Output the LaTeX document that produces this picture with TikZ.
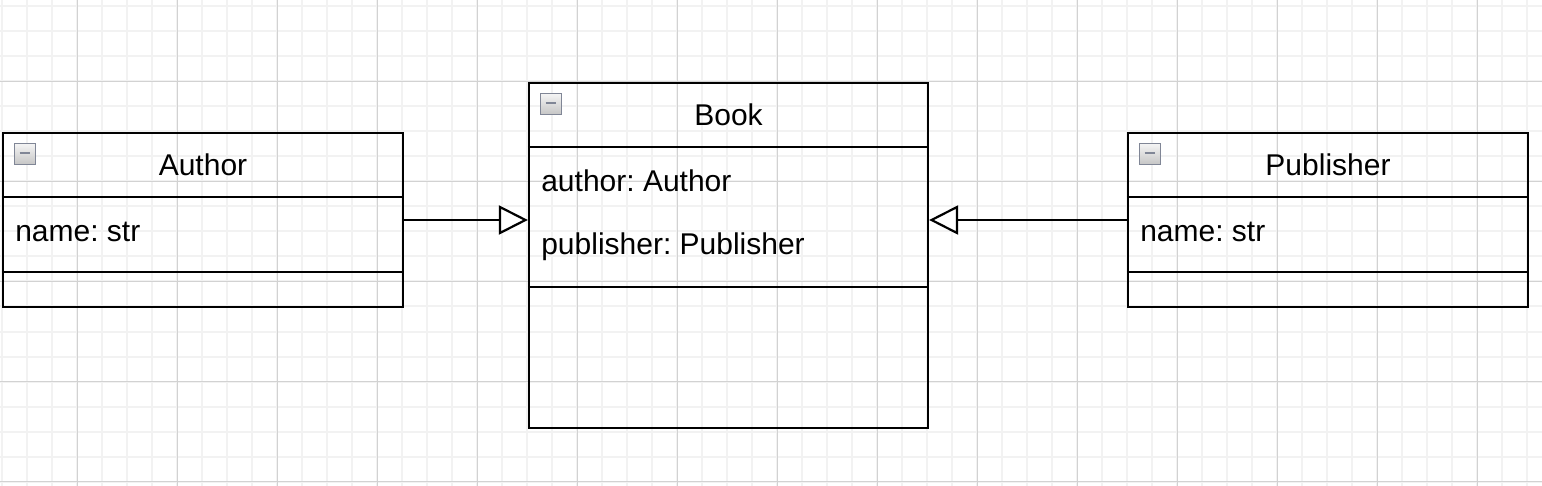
\documentclass[tikz,border=0pt]{standalone}
\usepackage{fontspec}
\setmainfont{Liberation Sans}
\frenchspacing
\usetikzlibrary{arrows.meta}

\tikzset{
  classbox/.style={draw, line width=1.1pt, minimum width=200pt, inner sep=0pt},
  classtitle/.style={anchor=base, inner sep=0pt, font=\fontsize{15}{17}\selectfont},
  attr/.style={anchor=base west, inner sep=0pt, font=\fontsize{15}{17}\selectfont},
  minusicon/.style={draw={rgb,255:red,128;green,134;blue,150}, line width=0.7pt,
    top color=gray!8, bottom color=gray!45, minimum size=10.5pt, inner sep=0pt,
    path picture={\draw[line width=1.3pt] ([xshift=-2.6pt, yshift=0.4pt]path picture bounding box.center) -- ([xshift=2.6pt, yshift=0.4pt]path picture bounding box.center);}},
  inherit/.style={line width=1.1pt, -{Triangle[open, length=14.5pt, width=14.5pt, fill=white]}},
  minorgrid/.style={gray!10, line width=1pt},
  majorgrid/.style={gray!35, line width=0.5pt},
}

\begin{document}
\begin{tikzpicture}[x=0.5pt, y=-0.5pt]
        \useasboundingbox (0,0) rectangle (1542,486);
        \foreach \g in {2,27,...,1542} \draw[minorgrid] (\g,0) -- (\g,486);
        \foreach \g in {6.5,31.5,...,486} \draw[minorgrid] (0,\g) -- (1542,\g);
        \foreach \g in {77,177,...,1542} \draw[majorgrid] (\g,0) -- (\g,486);
        \foreach \g in {81.5,181.5,...,486} \draw[majorgrid] (0,\g) -- (1542,\g);

        \node[classbox, minimum height=87pt] (author) at (203,220) {};
        \node[classbox, minimum width=199.5pt, minimum height=172.5pt] (book) at (728.5,255.5) {};
        \node[classbox, minimum height=87pt] (publisher) at (1328,220) {};

        \foreach \c/\d in {author/70pt, book/102.5pt, publisher/70pt} {
            \draw[line width=1.1pt] ([yshift=-32.5pt]\c.north west) -- ([yshift=-32.5pt]\c.north east);
            \draw[line width=1.1pt] ([yshift=-\d]\c.north west) -- ([yshift=-\d]\c.north east);
            \node[minusicon] (\c-icon) at ([xshift=11.5pt, yshift=-11pt]\c.north west) {};
        }

        \node[classtitle] (author-title) at ([yshift=-21.9pt]author.north) {Author};
        \node[classtitle] (book-title) at ([yshift=-21.9pt]book.north) {Book};
        \node[classtitle] (publisher-title) at ([yshift=-21.9pt]publisher.north) {Publisher};

        \node[attr] (author-name) at ([xshift=6.5pt, yshift=-54.6pt]author.north west) {name: str};
        \node[attr] (book-author) at ([xshift=6.5pt, yshift=-54.6pt]book.north west) {author: Author};
        \node[attr] (book-publisher) at ([xshift=6.5pt, yshift=-86.3pt]book.north west) {publisher: Publisher};
        \node[attr] (publisher-name) at ([xshift=6.5pt, yshift=-54.6pt]publisher.north west) {name: str};

        \draw[inherit] (author.east) -- (author.east -| book.west);
        \draw[inherit] (publisher.west) -- (publisher.west -| book.east);
    \end{tikzpicture}
\end{document}
